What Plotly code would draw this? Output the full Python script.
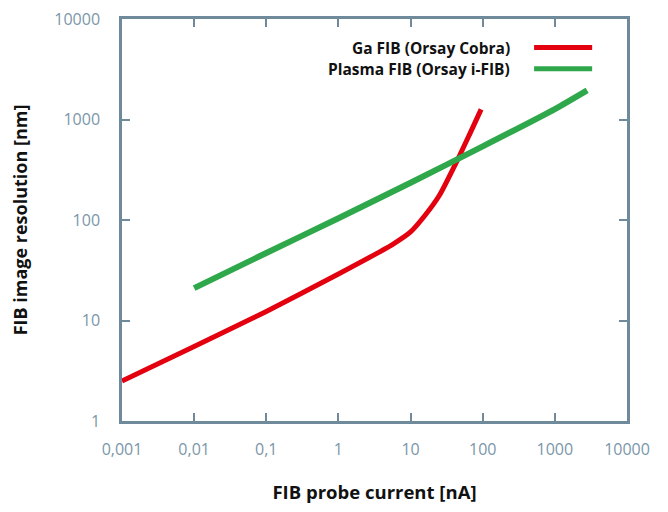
import plotly.graph_objects as go

# Ga FIB (Orsay Cobra)
ga_current = [0.001, 0.01, 0.1, 1, 5.6, 10, 16, 25, 45, 65, 95]
ga_resolution = [2.5, 5.5, 12.3, 29, 57, 76, 112, 175, 400, 700, 1260]

# Plasma FIB (Orsay i-FIB)
pl_current = [0.01, 0.1, 1, 10, 100, 1000, 2800]
pl_resolution = [21, 47, 104, 235, 540, 1270, 1950]

x_tickvals = [0.001, 0.01, 0.1, 1, 10, 100, 1000, 10000]
x_ticktext = ["0,001", "0,01", "0,1", "1", "10", "100", "1000", "10000"]
y_tickvals = [1, 10, 100, 1000, 10000]
y_ticktext = ["1", "10", "100", "1000", "10000"]

series_names = ["Ga FIB (Orsay Cobra)", "Plasma FIB (Orsay i-FIB)"]
series_colors = ["#e3000f", "#2ea84a"]

AX = "#6f8b9b"
TICKTXT = "#7b96a8"
FONT = "'Open Sans', Lato, sans-serif"

fig = go.Figure()
fig.add_trace(go.Scatter(x=ga_current, y=ga_resolution, mode="lines",
                         line=dict(color=series_colors[0], width=5, shape="spline", smoothing=0.6),
                         name=series_names[0], showlegend=False))
fig.add_trace(go.Scatter(x=pl_current, y=pl_resolution, mode="lines",
                         line=dict(color=series_colors[1], width=6, shape="spline", smoothing=0.6),
                         name=series_names[1], showlegend=False))

axis_common = dict(showgrid=False, zeroline=False, showline=True, linecolor=AX, linewidth=2.5,
                   mirror="ticks", ticks="inside", ticklen=8, tickwidth=1.5, tickcolor=AX,
                   automargin=False, ticklabeloverflow="allow",
                   tickfont=dict(family=FONT, size=16, color=TICKTXT))

fig.update_xaxes(type="log", range=[-3, 4], tickvals=x_tickvals, ticktext=x_ticktext,
                 ticklabelstandoff=12,
                 title=dict(text="<b>FIB probe current [nA]</b>", font=dict(family=FONT, size=18.5, color="#111"),
                            standoff=28),
                 **axis_common)
fig.update_yaxes(type="log", range=[0, 4], tickvals=y_tickvals, ticktext=y_ticktext,
                 ticklabelstandoff=16,
                 title=dict(text="<b>FIB image resolution [nm]</b>", font=dict(family=FONT, size=18, color="#111"),
                            standoff=22),
                 **axis_common)

# custom legend (text on left, line sample on right)
leg_y = [0.929, 0.876]
for name, color, yy in zip(series_names, series_colors, leg_y):
    fig.add_annotation(x=0.772, y=yy, xref="paper", yref="paper", text="<b>" + name + "</b>",
                       showarrow=False, xanchor="right", yanchor="middle",
                       font=dict(family=FONT, size=15.5, color="#111"))
    fig.add_shape(type="line", xref="paper", yref="paper", x0=0.816, x1=0.931, y0=yy, y1=yy,
                  line=dict(color=color, width=5))

# page body has an 8px margin, so the figure is sized/offset to compensate
fig.update_layout(width=652, height=496, margin=dict(l=114, r=33, t=11, b=83),
                  paper_bgcolor="white", plot_bgcolor="white",
                  font=dict(family=FONT))
fig.write_html("out.html")
